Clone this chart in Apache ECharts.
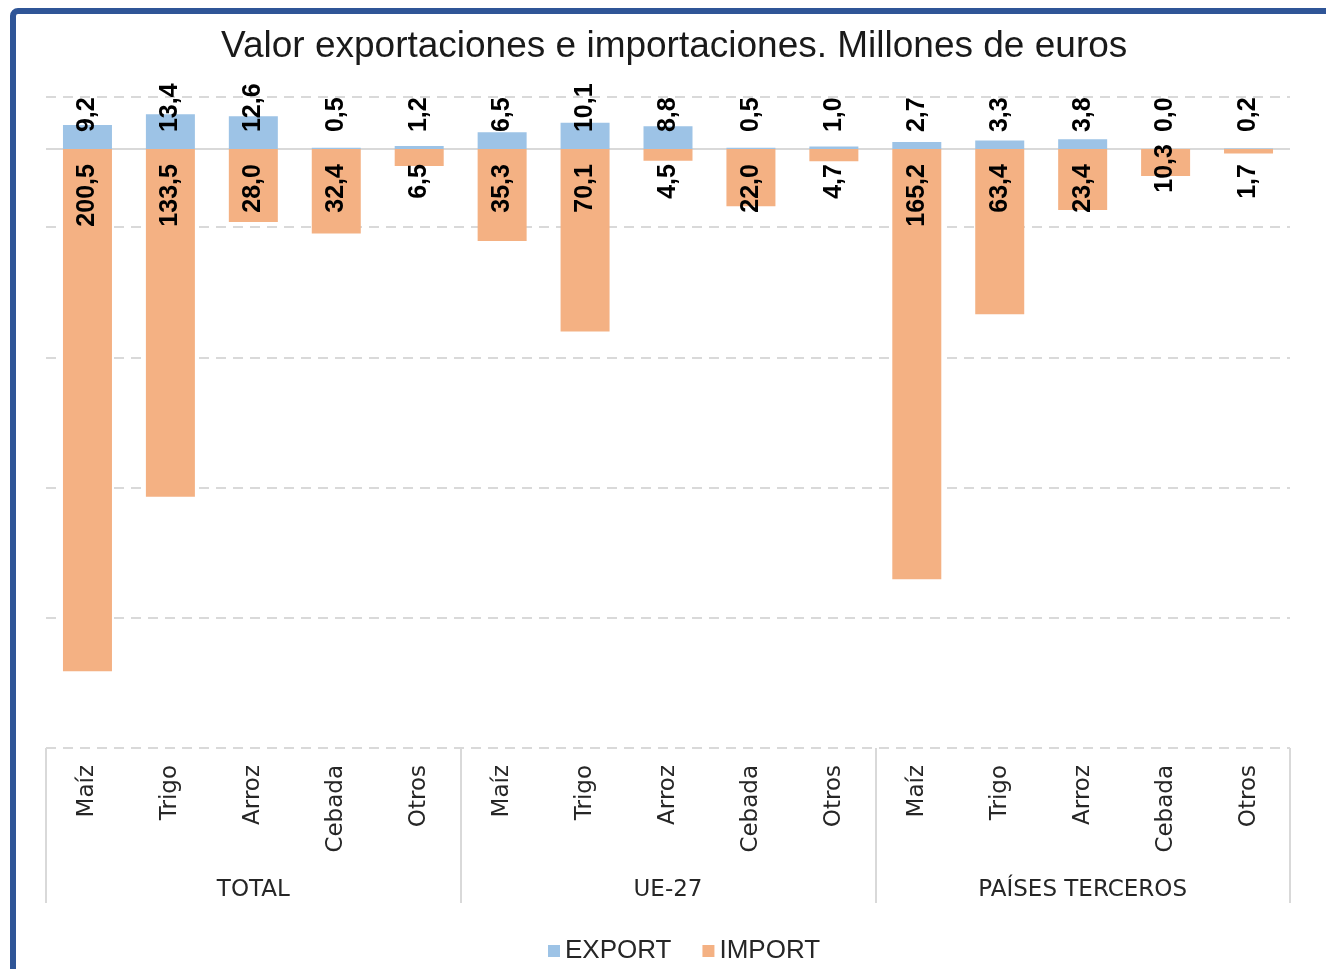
<!DOCTYPE html>
<html>
<head>
<meta charset="utf-8">
<script src="https://cdn.jsdelivr.net/npm/echarts@6/dist/echarts.min.js"></script>
<style>
  html, body { margin: 0; padding: 0; background: #ffffff; }
  #chart { width: 1326px; height: 969px; }
</style>
</head>
<body>
<div id="chart"></div>
<script>
// Cereal trade, million euros
const products = ['Maíz', 'Trigo', 'Arroz', 'Cebada', 'Otros'];
const regions = ['TOTAL', 'UE-27', 'PAÍSES TERCEROS'];

const exportTotal = [9.2, 13.4, 12.6, 0.5, 1.2];
const exportUE = [6.5, 10.1, 8.8, 0.5, 1.0];
const exportTerceros = [2.7, 3.3, 3.8, 0.0, 0.2];

const importTotal = [200.5, 133.5, 28.0, 32.4, 6.5];
const importUE = [35.3, 70.1, 4.5, 22.0, 4.7];
const importTerceros = [165.2, 63.4, 23.4, 10.3, 1.7];

// value axis range and gridline step
const valueMin = -230;
const valueMax = 20;
const gridStep = 50;

const categories = regions.flatMap(() => products);
const exportVals = [].concat(exportTotal, exportUE, exportTerceros);
const importVals = [].concat(importTotal, importUE, importTerceros);

const fmt = v => Math.abs(v).toFixed(1).replace('.', ',');

const labelFont = {
  fontFamily: 'Liberation Sans, Arial, sans-serif',
  fontWeight: 'bold',
  fontSize: 25,
  color: '#000000'
};

const importData = importVals.map((v, i) => {
  const item = { value: -v };
  // the Cebada label of third countries sits across the zero line
  if (i === 13) item.label = { distance: -5 };
  return item;
});

const chart = echarts.init(document.getElementById('chart'), null, { renderer: 'canvas' });

chart.setOption({
  backgroundColor: '#ffffff',
  animation: false,
  title: {
    text: 'Valor exportaciones e importaciones. Millones de euros',
    left: 216,
    top: 23,
    textStyle: {
      fontFamily: 'Liberation Sans, Arial, sans-serif',
      fontWeight: 'normal',
      fontSize: 37,
      color: '#1a1a1a'
    }
  },
  legend: {
    data: ['EXPORT', 'IMPORT'],
    left: 543,
    bottom: 0,
    icon: 'rect',
    itemWidth: 12,
    itemHeight: 12,
    itemGap: 31,
    textStyle: {
      fontFamily: 'Liberation Sans, Arial, sans-serif',
      fontSize: 26,
      color: '#262626'
    }
  },
  graphic: [{
    type: 'rect',
    shape: { x: 13, y: 11, width: 1400, height: 1000, r: 5 },
    style: { fill: 'none', stroke: '#2F5597', lineWidth: 6 },
    silent: true,
    z: 100
  }],
  grid: { left: 46, right: 36, top: 97, bottom: 221 },
  xAxis: [{
    type: 'category',
    data: categories,
    position: 'bottom',
    axisLine: { show: false },
    axisTick: { show: false },
    axisLabel: {
      interval: 0,
      rotate: 90,
      margin: 17,
      fontFamily: 'DejaVu Sans, Verdana, sans-serif',
      fontSize: 23,
      color: '#262626'
    }
  }, {
    type: 'category',
    data: regions,
    position: 'bottom',
    axisLine: { show: false },
    axisTick: {
      show: true,
      interval: 0,
      length: 155,
      lineStyle: { color: '#d9d9d9', width: 2 }
    },
    axisLabel: {
      interval: 0,
      margin: 131,
      fontFamily: 'DejaVu Sans, Verdana, sans-serif',
      fontSize: 23,
      color: '#262626'
    }
  }],
  yAxis: [{
    type: 'value',
    min: valueMin,
    max: valueMax,
    show: false,
    splitLine: { show: false }
  }, {
    // gridline axis: same extent as the value axis, shifted to start at zero
    type: 'value',
    min: 0,
    max: valueMax - valueMin,
    interval: gridStep,
    axisLine: { show: false },
    axisTick: { show: false },
    axisLabel: { show: false },
    splitLine: {
      show: true,
      lineStyle: { color: '#d9d9d9', width: 2, type: [10, 7] }
    }
  }],
  series: [{
    name: 'EXPORT',
    type: 'bar',
    xAxisIndex: 0,
    yAxisIndex: 0,
    data: exportVals,
    barWidth: 49,
    barGap: '-100%',
    itemStyle: { color: '#9DC3E6' },
    label: {
      show: true,
      position: 'insideBottom',
      distance: 17,
      rotate: 90,
      align: 'left',
      verticalAlign: 'middle',
      formatter: p => fmt(p.value),
      ...labelFont
    },
    markLine: {
      silent: true,
      symbol: 'none',
      label: { show: false },
      lineStyle: { color: '#d9d9d9', width: 2, type: 'solid' },
      data: [{ yAxis: 0 }],
      z: 1
    },
    z: 3
  }, {
    name: 'IMPORT',
    type: 'bar',
    xAxisIndex: 0,
    yAxisIndex: 0,
    data: importData,
    barWidth: 49,
    barGap: '-100%',
    itemStyle: { color: '#F4B183' },
    label: {
      show: true,
      position: 'insideTop',
      distance: 15,
      rotate: 90,
      align: 'right',
      verticalAlign: 'middle',
      formatter: p => fmt(p.value),
      ...labelFont
    },
    z: 3
  }]
});
</script>
</body>
</html>
